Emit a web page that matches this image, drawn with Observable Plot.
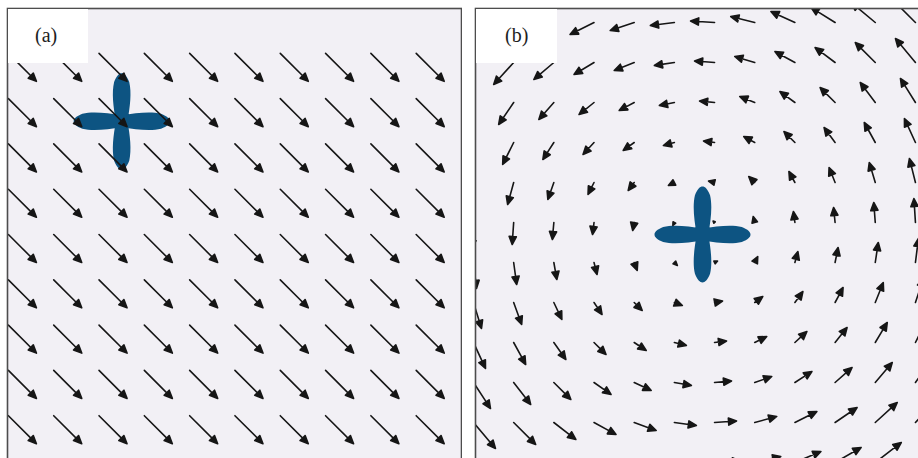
<!DOCTYPE html>
<html><head><meta charset="utf-8">
<script src="https://cdn.jsdelivr.net/npm/d3@7"></script>
<script src="https://cdn.jsdelivr.net/npm/@observablehq/plot@0.6"></script>
<style>
html,body{margin:0;padding:0;background:#fff;overflow:hidden;}
#wrap{position:relative;width:918px;height:458px;overflow:hidden;background:#fff;}
.panel{position:absolute;}
.label{position:absolute;background:#fff;}
.label span{position:absolute;font-family:"Liberation Serif","DejaVu Serif",serif;font-size:20px;line-height:20px;color:#1e1e1e;white-space:nowrap;}
</style></head><body><div id="wrap"></div>
<script>
// ---------------- data ----------------
const panelLabels = ["(a)", "(b)"];

// (a) uniform field: grid columns / rows, one vector (px right, px down)
const aCols = [0, 1, 2, 3, 4, 5, 6, 7, 8, 9];
const aRows = [0, 1, 2, 3, 4, 5, 6, 7, 8];
const aU = 28, aV = 28;
const aCross = [2.5, 1.5];

// (b) rotating field: horizontal component per row, vertical component per column (px, right / down)
const bCols = [0, 1, 2, 3, 4, 5, 6, 7, 8, 9, 10, 11];
const bRows = [0, 1, 2, 3, 4, 5, 6, 7, 8, 9, 10, 11];
const bUByRow = [-24, -20, -15, -11, -6, -1.5, 3, 8, 12, 17, 22, 26];
const bVByCol = [26, 22, 17, 12, 8, 3, -1.5, -6, -11, -15, -20, -24];
const bCross = [5.7, 5.3];

// ---------------- styles ----------------
const BG = "#f2f0f5", FRAME = "#4d4d4d", ARROW = "#161616", CROSS = "#0d5482";

const arrowShape = {
  draw(ctx, l) {
    const h = Math.min(8, l), w = h * 0.45;
    ctx.moveTo(0, 0);
    ctx.lineTo(0, -l + h * 0.5);
    ctx.moveTo(0, -l);
    ctx.lineTo(-w, -l + h);
    ctx.lineTo(w, -l + h);
    ctx.closePath();
  }
};

const crossSymbol = {
  draw(ctx, size) {
    const L = Math.sqrt(size / Math.PI);
    const hc = L * 0.12, hm = L * 0.175;
    for (let k = 0; k < 4; k++) {
      const a = k * Math.PI / 2, c = Math.cos(a), s = Math.sin(a);
      const P = (x, y) => [x * c - y * s, x * s + y * c];
      const b = (x1, y1, x2, y2, x, y) => ctx.bezierCurveTo(...P(x1, y1), ...P(x2, y2), ...P(x, y));
      ctx.moveTo(...P(0, -hc));
      b(0.3 * L, -hm * 1.0, 0.6 * L, -hm * 1.2, 0.82 * L, -hm * 0.9);
      b(0.95 * L, -hm * 0.6, L, -hm * 0.3, L, 0);
      b(L, hm * 0.3, 0.95 * L, hm * 0.6, 0.82 * L, hm * 0.9);
      b(0.6 * L, hm * 1.2, 0.3 * L, hm * 1.0, 0, hc);
      ctx.closePath();
    }
  }
};

function vec(u, v) {
  return {len: Math.hypot(u, v), rot: Math.atan2(u, -v) * 180 / Math.PI};
}

const aData = [];
for (const j of aRows) for (const i of aCols) aData.push({x: i, y: j, ...vec(aU, aV)});
const bData = [];
for (const m of bRows) for (const k of bCols) bData.push({x: k, y: m, ...vec(bUByRow[m], bVByCol[k])});

function panel(data, cross, xDomain, yDomain) {
  return Plot.plot({
    width: 454 + 2, height: 464,
    marginTop: 1, marginRight: 1, marginBottom: 1, marginLeft: 1,
    x: {domain: xDomain, axis: null},
    y: {domain: yDomain, axis: null, reverse: true},
    length: {type: "identity"},
    style: {background: "transparent"},
    marks: [
      Plot.frame({fill: BG, stroke: null}),
      Plot.dot([cross], {x: d => d[0], y: d => d[1], r: 48, symbol: crossSymbol, fill: CROSS, stroke: null}),
      Plot.vector(data, {x: "x", y: "y", length: "len", rotate: "rot", anchor: "start",
        shape: arrowShape, stroke: ARROW, fill: ARROW, strokeWidth: 1.6, clip: true}),
      Plot.frame({stroke: FRAME, strokeWidth: 1.6})
    ]
  });
}

const wrap = document.getElementById("wrap");
const pa = panel(aData, aCross, [-0.02, 10.0], [-0.99, 9.21]);
pa.classList.add("panel"); pa.style.left = "6px"; pa.style.top = "7px";
wrap.appendChild(pa);
const pb = panel(bData, bCross, [0.05, 11.35], [-0.35, 11.2]);
pb.classList.add("panel"); pb.style.left = "474px"; pb.style.top = "7px"; pb.style.maxWidth = "none";
wrap.appendChild(pb);

function label(text, left, width, textLeft) {
  const d = document.createElement("div");
  d.className = "label";
  d.style.left = left + "px"; d.style.top = "9px";
  d.style.width = width + "px"; d.style.height = "54px";
  const s = document.createElement("span");
  s.textContent = text; s.style.left = textLeft + "px"; s.style.top = "16px";
  d.appendChild(s);
  wrap.appendChild(d);
}
label(panelLabels[0], 8, 80, 27);
label(panelLabels[1], 476, 81, 29);
</script>
</body></html>
